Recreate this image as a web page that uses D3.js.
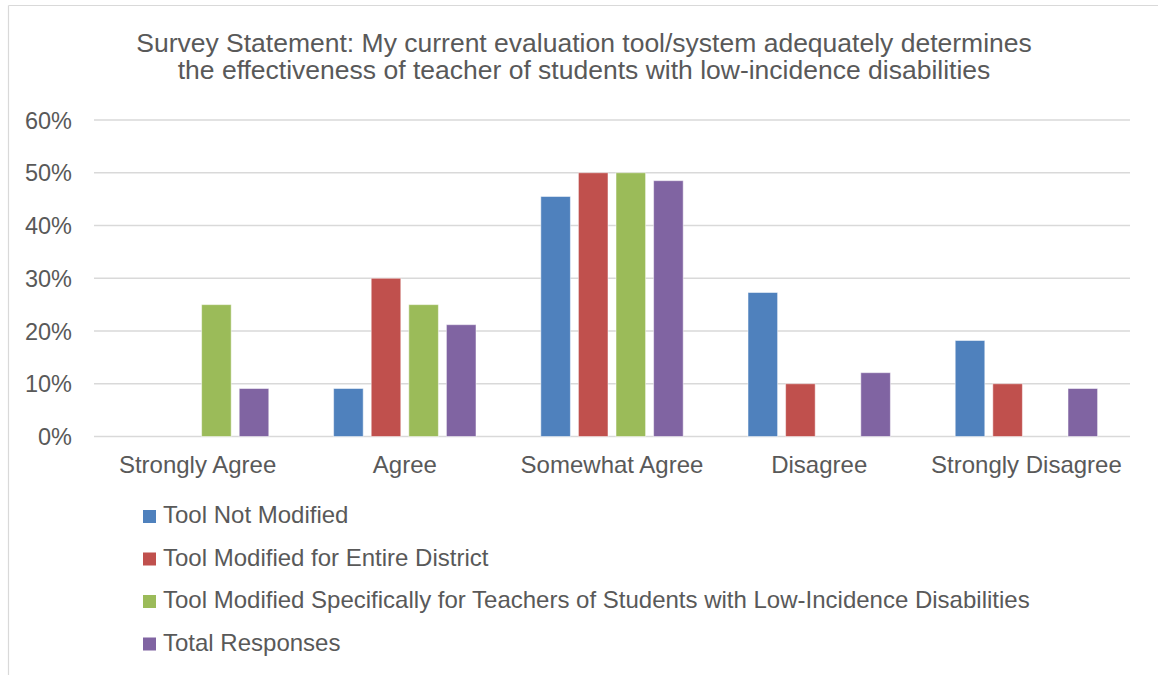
<!DOCTYPE html>
<html><head><meta charset="utf-8">
<script src="https://cdn.jsdelivr.net/npm/d3@7"></script>
<style>body{margin:0;background:#fff;} text{font-family:"Liberation Sans",Arial,sans-serif;fill:#595959;}</style>
</head><body><svg id="c" width="1158" height="675"></svg>
<script>
const titleLines = ["Survey Statement: My current evaluation tool/system adequately determines",
  "the effectiveness of teacher of students with low-incidence disabilities"];
const categories = ["Strongly Agree","Agree","Somewhat Agree","Disagree","Strongly Disagree"];
const seriesNames = ["Tool Not Modified","Tool Modified for Entire District",
  "Tool Modified Specifically for Teachers of Students with Low-Incidence Disabilities","Total Responses"];
const toolNotModified   = [0, 0.091, 0.455, 0.273, 0.182];
const modifiedDistrict  = [0, 0.30, 0.50, 0.10, 0.10];
const modifiedSpecific  = [0.25, 0.25, 0.50, 0, 0];
const totalResponses    = [0.091, 0.212, 0.485, 0.121, 0.091];
const seriesValues = [toolNotModified, modifiedDistrict, modifiedSpecific, totalResponses];
const colors = ["#4F81BD","#C0504D","#9BBB59","#8064A2"];
const yTicks = [0,0.1,0.2,0.3,0.4,0.5,0.6];

const svg = d3.select("#c");
// frame
svg.append("line").attr("x1",8.5).attr("x2",8.5).attr("y1",5.5).attr("y2",675).attr("stroke","#d9d9d9").attr("stroke-width",1.2);
svg.append("line").attr("x1",8.5).attr("x2",1158).attr("y1",5.5).attr("y2",5.5).attr("stroke","#d9d9d9").attr("stroke-width",1.2);

const x0 = d3.scaleBand().domain(categories).range([94,1130]).paddingInner(0).paddingOuter(0);
const x1 = d3.scaleBand().domain(d3.range(4)).range([0,x0.bandwidth()]).paddingInner(0.213).paddingOuter(0.862);
const y = d3.scaleLinear().domain([0,0.6]).range([436.5,120]);

// title
svg.append("text").attr("x",584).attr("text-anchor","middle").attr("font-size",26.5)
  .selectAll("tspan").data(titleLines).join("tspan").attr("x",584).attr("y",(d,i)=>51.5+i*27).text(d=>d);

// grid
svg.append("g").selectAll("line").data(yTicks).join("line")
  .attr("x1",94).attr("x2",1130).attr("y1",d=>y(d)).attr("y2",d=>y(d))
  .attr("stroke","#d9d9d9").attr("stroke-width",1.4);

// y axis
const yAxis = d3.axisLeft(y).tickValues(yTicks).tickFormat(d3.format(".0%")).tickSize(0).tickPadding(0);
const gy = svg.append("g").attr("transform","translate(72,0)").call(yAxis);
gy.select(".domain").remove();
gy.selectAll("text").attr("font-size",23.5).attr("font-family","Liberation Sans, Arial, sans-serif").attr("fill","#595959").attr("dy","0.35em");

// bars
const g = svg.append("g");
categories.forEach((c,ci)=>{
  seriesValues.forEach((vals,si)=>{
    if(vals[ci]<=0) return;
    g.append("rect").attr("x",x0(c)+x1(si)).attr("width",x1.bandwidth())
      .attr("y",y(vals[ci])).attr("height",y(0)-y(vals[ci]))
      .attr("fill",colors[si]).attr("stroke","#ffffff").attr("stroke-opacity",0.5).attr("stroke-width",1);
  });
});

// x axis
const xAxis = d3.axisBottom(x0).tickSize(0).tickPadding(0);
const gx = svg.append("g").attr("transform","translate(0,473)").call(xAxis);
gx.select(".domain").remove();
gx.selectAll("text").attr("font-size",24).attr("font-family","Liberation Sans, Arial, sans-serif").attr("fill","#595959").attr("dy",0);

// legend
const lg = svg.append("g").selectAll("g").data(seriesNames).join("g")
  .attr("transform",(d,i)=>`translate(143,${510+i*42.5})`);
lg.append("rect").attr("width",13).attr("height",13).attr("fill",(d,i)=>colors[i]);
lg.append("text").attr("x",20).attr("y",13.3).attr("font-size",24).text(d=>d);
</script></body></html>
